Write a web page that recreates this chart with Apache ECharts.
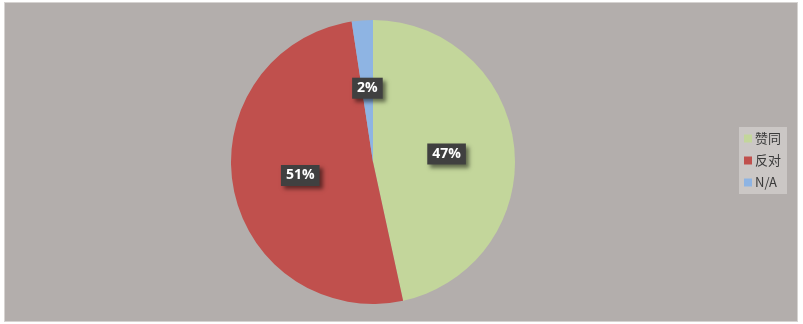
<!DOCTYPE html>
<html>
<head>
<meta charset="utf-8">
<script src="https://cdn.jsdelivr.net/npm/echarts@6/dist/echarts.min.js"></script>
<style>
html,body{margin:0;padding:0;background:#ffffff;}
#frame{position:absolute;left:4px;top:2px;width:792px;height:318px;background:#b3aeac;border:1px solid #d6d3d1;}
#chart{width:792px;height:318px;}
</style>
</head>
<body>
<div id="frame"><div id="chart"></div></div>
<script>
const categories = ['赞同', '反对', 'N/A'];
const values = [46.6, 51.0, 2.4];
const colors = ['#c3d69b', '#c0504d', '#8eb4e3'];

const chart = echarts.init(document.getElementById('chart'));
chart.setOption({
  animation: false,
  backgroundColor: '#b3aeac',
  color: colors,
  legend: {
    orient: 'vertical',
    left: 734,
    top: 124,
    itemWidth: 8,
    itemHeight: 8,
    itemGap: 9,
    icon: 'rect',
    padding: [5, 6, 5, 5],
    backgroundColor: '#cbc7c5',
    textStyle: { fontFamily: 'Noto Sans CJK SC', fontSize: 13, color: '#3a3a3a', padding: [0, 0, 0, -2] },
    data: categories
  },
  series: [{
    type: 'pie',
    center: [368, 159],
    radius: [0, 142],
    startAngle: 90,
    clockwise: true,
    itemStyle: { borderWidth: 0 },
    label: {
      show: true,
      position: 'inside',
      formatter: p => Math.round(p.percent) + '%',
      fontFamily: 'Open Sans',
      fontWeight: 'bold',
      fontSize: 14,
      color: '#ffffff',
      backgroundColor: '#404040',
      padding: [4, 5, 3, 5],
      shadowColor: 'rgba(0,0,0,0.5)',
      shadowBlur: 4,
      shadowOffsetX: 3,
      shadowOffsetY: 3
    },
    labelLine: { show: false },
    data: categories.map((c, i) => ({ name: c, value: values[i] }))
  }]
});
</script>
</body>
</html>
